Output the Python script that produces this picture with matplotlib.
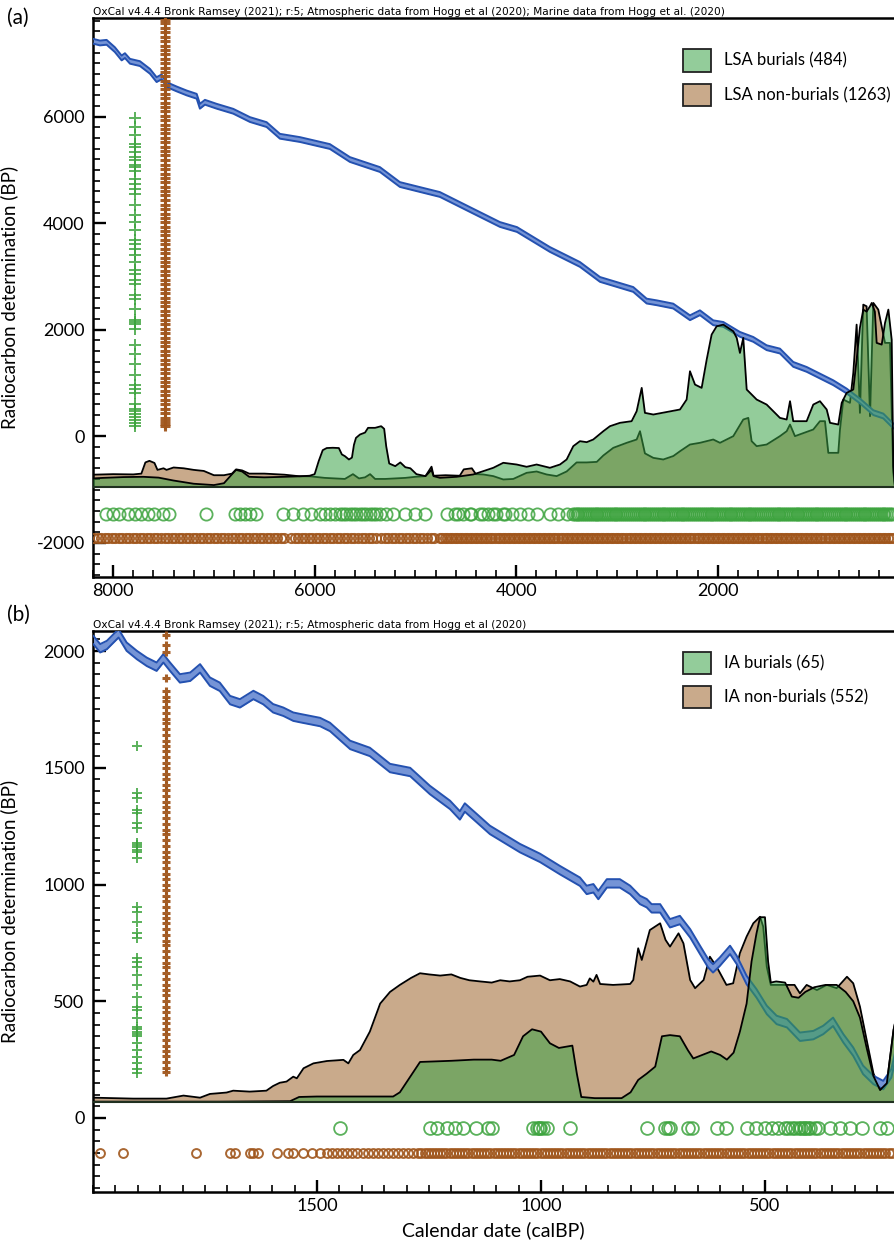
import numpy as np
import matplotlib.pyplot as plt
from matplotlib.patches import Patch
from matplotlib.ticker import MultipleLocator

plt.rcParams['font.family'] = ['Lato', 'DejaVu Sans']
plt.rcParams['axes.unicode_minus'] = False

# ---------------- panel (a): LSA ----------------
# calibration curve (calBP -> 14C BP)
cal_a_x = [8198, 8131, 8065, 7983, 7916, 7883, 7833, 7734, 7635, 7569,
           7519, 7469, 7370, 7271, 7171, 7139, 7089, 6973, 6808, 6642,
           6477, 6345, 6146, 5849, 5650, 5352, 5154, 4955, 4757, 4459,
           4161, 3992, 3665, 3367, 3168, 2838, 2705, 2605, 2441, 2275,
           2176, 2044, 1944, 1779, 1647, 1514, 1382, 1250, 1117, 985,
           853, 720, 588, 455, 356, 257]
cal_a_y = [7413, 7381, 7394, 7256, 7100, 7144, 7038, 6994, 6850, 6694,
           6744, 6600, 6519, 6444, 6381, 6194, 6269, 6194, 6100, 5944,
           5850, 5631, 5569, 5438, 5194, 5006, 4725, 4631, 4538, 4256,
           3975, 3881, 3506, 3225, 2944, 2756, 2538, 2506, 2444, 2225,
           2319, 2131, 2100, 1913, 1819, 1663, 1600, 1350, 1256, 1131,
           1006, 850, 663, 444, 381, 194]

# summed distributions, height above the plot baseline
lsa_bur_x = [8200, 8100, 7900, 7700, 7550, 7400, 7200, 7000, 6900, 6820,
             6780, 6720, 6650, 6500, 6300, 6150, 6050, 6000, 5960, 5920,
             5880, 5820, 5760, 5730, 5700, 5660, 5630, 5610, 5590, 5550,
             5500, 5470, 5400, 5340, 5310, 5290, 5260, 5200, 5150, 5100,
             5050, 4990, 4900, 4840, 4820, 4756, 4591, 4426, 4327, 4227,
             4128, 3995, 3896, 3797, 3665, 3565, 3499, 3433, 3367, 3300,
             3235, 3135, 3069, 2970, 2854, 2804, 2754, 2722, 2639, 2374,
             2308, 2275, 2225, 2159, 2109, 2060, 2010, 1944, 1845, 1811,
             1779, 1746, 1712, 1613, 1514, 1382, 1315, 1282, 1250, 1117,
             1051, 985, 918, 885, 803, 769, 720, 654, 621, 588,
             555, 522, 488, 471, 440, 422, 372, 339, 306, 273,
             257, 240]
lsa_bur_h = [170, 180, 195, 200, 185, 130, 70, 45, 80, 250,
             330, 300, 200, 190, 200, 210, 220, 250, 494, 700,
             740, 745, 740, 620, 588, 525, 560, 800, 930, 994,
             1030, 1119, 1119, 1150, 1100, 775, 450, 400, 470, 380,
             360, 250, 213, 330, 213, 181, 200, 244, 306, 369,
             463, 431, 388, 431, 369, 431, 525, 775, 869, 850,
             900, 1056, 1150, 1213, 1244, 1431, 1869, 1400, 1369, 1463,
             1650, 2181, 1931, 1869, 2400, 2869, 3025, 3056, 2931, 2806,
             2525, 2806, 1838, 1650, 1556, 1306, 1275, 1619, 1244, 1244,
             1556, 1619, 1463, 1213, 1181, 1588, 1775, 1838, 2400, 3000,
             3338, 3300, 3400, 3463, 3300, 2713, 2681, 3088, 3338, 2775,
             400, 0]

lsa_non_x = [8200, 8000, 7800, 7720, 7680, 7640, 7590, 7560, 7500, 7470,
             7400, 7300, 7200, 7100, 7000, 6900, 6820, 6780, 6720, 6650,
             6500, 6300, 6150, 6050, 6000, 5900, 5800, 5700, 5620, 5560,
             5500, 5450, 5400, 5300, 5200, 5100, 5000, 4900, 4840, 4820,
             4700, 4560, 4520, 4440, 4400, 4327, 4227, 4128, 4029, 3896,
             3797, 3698, 3598, 3499, 3400, 3300, 3200, 3135, 3036, 2903,
             2804, 2771, 2722, 2639, 2540, 2440, 2374, 2275, 2176, 2044,
             1977, 1845, 1746, 1696, 1663, 1613, 1514, 1382, 1315, 1282,
             1233, 1051, 985, 935, 902, 803, 786, 753, 687, 654,
             621, 588, 555, 522, 488, 455, 406, 339, 290, 257,
             240]
lsa_non_h = [240, 250, 245, 260, 470, 500, 460, 330, 360, 330,
             375, 360, 330, 310, 230, 230, 260, 340, 320, 260,
             260, 240, 210, 210, 200, 180, 170, 160, 250, 170,
             190, 250, 160, 160, 170, 180, 200, 213, 390, 220,
             230, 220, 340, 360, 250, 244, 213, 150, 160, 275,
             300, 244, 213, 300, 470, 470, 480, 600, 744, 838,
             900, 1056, 640, 556, 525, 590, 680, 806, 838, 900,
             838, 963, 1275, 1306, 869, 775, 806, 963, 1056, 1181,
             963, 1088, 1244, 1244, 650, 650, 1088, 1650, 1588, 2150,
             3056, 1400, 3431, 3400, 1338, 3463, 3338, 2713, 2713, 275,
             0]

# radiocarbon determinations (crosses) and calibrated medians (circles)
lsa_bur_c14 = [5980, 5810, 5660, 5480, 5420, 5340, 5250, 5190, 5100, 5050,
               4970, 4820, 4730, 4650, 4540, 4350, 4160, 4030, 3880, 3690,
               3600, 3510, 3410, 3280, 3130, 3050, 2940, 2850, 2660, 2570,
               2380, 2190, 2150, 2100, 2010, 1720, 1540, 1350, 1160, 970,
               880, 820, 600, 520, 470, 410, 360, 300, 250, 190]
lsa_non_c14 = [7900, 7820, 7750, 7660, 7590, 7500, 7420, 7330, 7250, 7170,
               7080, 7000, 6920, 6830, 6760, 6670, 6600, 6510, 6430, 6350,
               6260, 6180, 6100, 6010, 5930, 5850, 5760, 5690, 5600, 5520,
               5430, 5350, 5270, 5180, 5100, 5020, 4930, 4850, 4770, 4680,
               4600, 4520, 4430, 4350, 4270, 4180, 4100, 4020, 3930, 3850,
               3770, 3690, 3600, 3520, 3440, 3350, 3270, 3190, 3100, 3020,
               2940, 2850, 2770, 2690, 2600, 2520, 2440, 2350, 2270, 2190,
               2100, 2020, 1940, 1850, 1770, 1690, 1600, 1520, 1440, 1350,
               1270, 1190, 1100, 1020, 940, 850, 770, 690, 600, 520,
               440, 350, 290, 240, 200]
lsa_bur_med = [8070, 8004, 7938, 7855, 7788, 7723, 7656, 7590, 7508, 7441,
               7076, 6794, 6745, 6695, 6645, 6580, 6315, 6216, 6116, 6034,
               5950, 5900, 5851, 5801, 5752, 5720, 5686, 5650, 5620, 5590,
               5553, 5520, 5488, 5450, 5421, 5390, 5355, 5289, 5223, 5107,
               5007, 4908, 4690, 4610, 4575, 4528, 4459, 4446, 4362, 4327,
               4280, 4228, 4198, 4128, 4114, 4045, 3962, 3880, 3797, 3664,
               3582, 3499, 3433,
               3420, 3400, 3385, 3365, 3345, 3325, 3305, 3290, 3270, 3250, 3230, 3210, 3195, 3175, 3155,
               3135, 3115, 3100, 3080, 3060, 3040, 3020, 3005, 2985, 2965, 2945, 2925, 2910, 2890, 2870,
               2850, 2830, 2815, 2795, 2775, 2755, 2735, 2720, 2700, 2680, 2660, 2640, 2625, 2605, 2585,
               2565, 2545, 2530, 2510, 2490, 2470, 2450, 2435, 2415, 2395, 2375, 2355, 2340, 2320, 2300,
               2280, 2260, 2245, 2225, 2205, 2185, 2165, 2150, 2130, 2110, 2090, 2070, 2055, 2035, 2015,
               1995, 1975, 1960, 1940, 1920, 1900, 1880, 1865, 1845, 1825, 1805, 1785, 1770, 1750, 1730,
               1710, 1690, 1675, 1655, 1635, 1615, 1595, 1580, 1560, 1540, 1520, 1500, 1485, 1465, 1445,
               1425, 1405, 1390, 1370, 1350, 1330, 1310, 1295, 1275, 1255, 1235, 1215, 1200, 1180, 1160,
               1140, 1120, 1105, 1085, 1065, 1045, 1025, 1010, 990, 970, 950, 930, 915, 895, 875,
               855, 835, 820, 800, 780, 760, 740, 725, 705, 685, 665, 645, 630, 610, 590,
               570, 550, 535, 515, 495, 475, 455, 440, 420, 400, 380, 360, 345, 325, 305,
               285, 265]
lsa_non_med = [8190, 8155, 8120, 8085, 8050, 8015, 7980, 7945, 7910, 7875, 7840, 7805, 7770, 7735, 7700,
               7665, 7630, 7595, 7560, 7525, 7490, 7455, 7420, 7385, 7350, 7315, 7280, 7245, 7210, 7175,
               7140, 7105, 7070, 7035, 7000, 6965, 6930, 6895, 6860, 6825, 6790, 6755, 6720, 6685, 6650,
               6615, 6580, 6545, 6510, 6475, 6440, 6405, 6370, 6335, 6300,
               6235, 6200, 6165, 6130, 6095, 6060, 6025, 5990, 5955, 5920, 5885, 5850, 5815, 5780, 5745,
               5710, 5675, 5640, 5605, 5570, 5535, 5500, 5465, 5430, 5395,
               5340, 5305, 5270, 5235, 5200, 5165, 5130, 5095, 5060, 5025, 4990, 4955, 4920, 4885, 4850,
               4815,
               4760, 4735, 4710, 4685, 4660, 4635, 4610, 4585, 4560, 4535, 4510, 4485, 4460, 4435, 4410,
               4385, 4360, 4335, 4310, 4285, 4260, 4235, 4210, 4185, 4160, 4135, 4110, 4085, 4060, 4035,
               4010, 3985, 3960, 3935, 3910, 3885, 3860, 3835, 3810, 3785, 3760, 3735, 3710, 3685, 3660,
               3635, 3610, 3585, 3560, 3535, 3510, 3485, 3460, 3435, 3410, 3385, 3360, 3335, 3310, 3285,
               3260, 3235, 3210, 3185, 3160, 3135, 3110, 3085, 3060, 3035, 3010, 2985, 2960, 2935, 2910,
               2885, 2860, 2835, 2810, 2785, 2760, 2735, 2710, 2685, 2660, 2635, 2610, 2585, 2560, 2535,
               2510, 2485, 2460, 2435, 2410, 2385, 2360, 2335, 2310, 2285, 2260, 2235, 2210, 2185, 2160,
               2135, 2110, 2085, 2060, 2035, 2010, 1985, 1960, 1935, 1910, 1885, 1860, 1835, 1810, 1785,
               1760, 1735, 1710, 1685, 1660, 1635, 1610, 1585, 1560, 1535, 1510, 1485, 1460, 1435, 1410,
               1385, 1360, 1335, 1310, 1285, 1260, 1235, 1210, 1185, 1160, 1135, 1110, 1085, 1060, 1035,
               1010, 985, 960, 935, 910, 885, 860, 835, 810, 785, 760, 735, 710, 685, 660,
               635, 610, 585, 560, 535, 510, 485, 460, 435, 410, 385, 360, 335, 310, 285, 260]

# ---------------- panel (b): IA ----------------
cal_b_x = [1999, 1984, 1969, 1943, 1925, 1902, 1880, 1858, 1843, 1828,
           1806, 1783, 1761, 1739, 1717, 1694, 1672, 1642, 1620, 1598,
           1575, 1553, 1538, 1493, 1471, 1426, 1382, 1337, 1292, 1248,
           1203, 1181, 1170, 1114, 1047, 1002, 958, 913, 898, 883,
           872, 853, 824, 801, 779, 764, 753, 734, 712, 690,
           667, 645, 627, 616, 601, 578, 563, 541, 519, 496,
           474, 451, 422, 392, 370, 348, 325, 303, 281, 258,
           236, 218, 205]
cal_b_y = [2047, 2012, 2026, 2076, 2019, 1983, 1954, 1933, 1969, 1933,
           1883, 1890, 1926, 1869, 1847, 1790, 1776, 1812, 1790, 1755,
           1740, 1719, 1713, 1696, 1675, 1598, 1568, 1499, 1482, 1405,
           1341, 1296, 1330, 1234, 1156, 1114, 1062, 1012, 977, 984,
           955, 1005, 1005, 977, 934, 920, 898, 898, 834, 848,
           791, 720, 663, 641, 669, 720, 677, 591, 534, 463,
           420, 406, 348, 355, 377, 412, 341, 284, 206, 163,
           141, 191, 300]

ia_bur_x = [2000, 1720, 1560, 1540, 1500, 1330, 1315, 1270, 1200, 1150,
            1110, 1090, 1060, 1040, 1020, 1000, 980, 960, 930, 920,
            910, 880, 820, 800, 783, 764, 745, 730, 712, 690,
            672, 660, 640, 620, 600, 585, 570, 556, 541, 530,
            519, 511, 500, 493, 487, 475, 455, 440, 425, 410,
            390, 365, 340, 320, 303, 288, 273, 258, 243, 228,
            213, 205]
ia_bur_h = [0, 0, 2, 20, 22, 22, 40, 170, 175, 180,
            180, 175, 200, 280, 310, 300, 250, 230, 240, 120,
            20, 15, 15, 40, 93, 120, 150, 280, 285, 280,
            220, 185, 200, 215, 200, 180, 210, 300, 420, 600,
            720, 790, 790, 600, 510, 515, 510, 450, 445, 470,
            490, 500, 500, 470, 430, 360, 230, 110, 50, 79,
            307, 380]

ia_non_x = [1999, 1910, 1836, 1798, 1761, 1739, 1702, 1687, 1650, 1613,
            1598, 1583, 1568, 1553, 1545, 1530, 1508, 1478, 1441, 1430,
            1419, 1404, 1382, 1359, 1337, 1315, 1290, 1270, 1250, 1225,
            1200, 1180, 1160, 1136, 1110, 1091, 1070, 1047, 1030, 1002,
            980, 958, 935, 913, 898, 891, 883, 876, 868, 839,
            801, 794, 783, 775, 757, 734, 722, 712, 693, 682,
            667, 656, 637, 623, 608, 586, 571, 556, 541, 526,
            511, 504, 496, 487, 464, 434, 422, 407, 384, 362,
            340, 317, 303, 288, 273, 258, 243, 228, 213, 205]
ia_non_h = [17, 13, 13, 26, 17, 33, 39, 47, 43, 47,
            67, 81, 86, 107, 100, 143, 164, 174, 179, 164,
            200, 221, 300, 420, 470, 500, 530, 550, 545, 540,
            545, 530, 520, 515, 510, 520, 515, 520, 535, 540,
            520, 525, 515, 493, 500, 528, 514, 543, 504, 500,
            504, 521, 657, 607, 735, 764, 693, 664, 721, 678,
            521, 486, 521, 621, 578, 500, 507, 636, 707, 764,
            792, 750, 578, 500, 500, 500, 464, 500, 478, 500,
            486, 535, 507, 407, 264, 122, 50, 79, 307, 380]

ia_bur_c14 = [1593, 1392, 1370, 1319, 1306, 1263, 1242, 1180, 1170, 1160,
              1150, 1140, 1113, 904, 882, 839, 792, 771, 685, 668,
              647, 612, 570, 518, 475, 462, 428, 390, 380, 370,
              360, 350, 321, 291, 261, 235, 210, 193]
ia_non_c14 = [2068, 2026, 1996, 1884, 1830, 1805, 1785, 1760, 1735, 1710,
              1690, 1665, 1640, 1615, 1595, 1570, 1545, 1520, 1500, 1475,
              1450, 1425, 1405, 1380, 1355, 1330, 1310, 1285, 1260, 1235,
              1215, 1190, 1165, 1140, 1120, 1095, 1070, 1045, 1025, 1000,
              975, 950, 930, 905, 880, 855, 835, 810, 785, 760,
              740, 715, 690, 665, 645, 620, 595, 570, 550, 525,
              500, 475, 455, 430, 405, 380, 360, 335, 310, 285,
              265, 240, 215, 195]
ia_bur_med = [1448, 1248, 1232, 1210, 1192, 1173, 1144, 1118, 1110, 1017,
              1010, 1005, 1002, 995, 987, 935, 764, 723, 716, 712,
              671, 664, 608, 586, 541, 519, 500, 485, 470, 455,
              448, 440, 432, 425, 420, 414, 410, 405, 399, 388,
              381, 355, 333, 310, 284, 243, 228]
ia_non_med = [1984, 1932, 1769, 1694, 1683, 1650, 1642, 1631, 1590, 1564,
              1553, 1531, 1512, 1493, 1478, 1466, 1455, 1444, 1432, 1421,
              1410, 1398, 1387, 1376, 1364, 1353, 1342, 1330, 1319, 1308,
              1296, 1285, 1274,
              1267, 1260, 1253, 1246, 1239, 1232, 1225, 1218, 1211, 1204, 1197, 1190, 1183, 1176, 1169,
              1162, 1155, 1148, 1141, 1134, 1127, 1120, 1113, 1106, 1099, 1092, 1085, 1078, 1071, 1064,
              1057, 1050, 1043, 1036, 1029, 1022, 1015, 1008, 1001, 994, 987, 980, 973, 966, 959,
              952, 945, 938, 931, 924, 917, 910, 903, 896, 889, 882, 875, 868, 861, 854,
              847, 840, 833, 826, 819, 812, 805, 798, 791, 784, 777, 770, 763, 756, 749,
              742, 735, 728, 721, 714, 707, 700, 693, 686, 679, 672, 665, 658, 651, 644,
              637, 630, 623, 616, 609, 602, 595, 588, 581, 574, 567, 560, 553, 546, 539,
              532, 525, 518, 511, 504, 497, 490, 483, 476, 469, 462, 455, 448, 441, 434,
              427, 420, 413, 406, 399, 392, 385, 378, 371, 364, 357, 350, 343, 336, 329,
              322, 315, 308, 301, 294, 287, 280, 273, 266, 259, 252, 245, 238, 231, 224,
              217]

TAN = '#c9aa8b'
GREEN_SRC = (59 / 255, 162 / 255, 71 / 255)
GREEN_LEG = '#93cc9a'
CAL_EDGE = '#2451b0'
CAL_FILL = '#7594d6'
MK_GREEN = '#3ea43f'
MK_BROWN = '#a0561c'

W, H = 894, 1248
fig = plt.figure(figsize=(W / 100, H / 100), dpi=100)
ax_a = fig.add_axes([93 / W, 1 - 577 / H, 1 - 93 / W, (577 - 18) / H])
ax_b = fig.add_axes([93 / W, 1 - 1192 / H, 1 - 93 / W, (1192 - 631) / H])


def draw_panel(ax, p):
    base = p['base']
    nx, nh = np.array(p['non_x']), np.array(p['non_h'])
    bx, bh = np.array(p['bur_x']), np.array(p['bur_h'])
    # non-burials (opaque tan)
    ax.fill_between(nx, base, base + nh, color=TAN, lw=0, zorder=1)
    ax.plot(nx, base + nh, color='black', lw=1.3, zorder=2)
    # calibration curve
    cx, cy = np.array(p['cal_x']), np.array(p['cal_y'])
    s = p['sig']
    ax.fill_between(cx, cy - s, cy + s, color=CAL_FILL, lw=0, zorder=3)
    ax.plot(cx, cy - s, color=CAL_EDGE, lw=1.4, zorder=3)
    ax.plot(cx, cy + s, color=CAL_EDGE, lw=1.4, zorder=3)
    # burials (semi-transparent green)
    ax.fill_between(bx, base, base + bh, color=GREEN_SRC, alpha=0.55, lw=0, zorder=4)
    ax.plot(bx, base + bh, color='black', lw=1.3, zorder=5)
    ax.axhline(base, color='#203020', lw=1.5, zorder=5)
    # crosses
    ax.plot(np.full(len(p['bur_c14']), p['bur_cx']), p['bur_c14'], '+',
            color=MK_GREEN, ms=p['ms_cross'][0], mew=1.4, alpha=0.85, zorder=6)
    ax.plot(np.full(len(p['non_c14']), p['non_cx']), p['non_c14'], '+',
            color=MK_BROWN, ms=p['ms_cross'][1], mew=2.2, alpha=0.95, zorder=6)
    # circles
    ax.plot(p['bur_med'], np.full(len(p['bur_med']), p['bur_cy']), 'o', mfc='none',
            mec=MK_GREEN, ms=p['ms_circ'][0], mew=1.3, alpha=0.85, ls='none', zorder=6)
    ax.plot(p['non_med'], np.full(len(p['non_med']), p['non_cy']), 'o', mfc='none',
            mec=MK_BROWN, ms=p['ms_circ'][1], mew=1.4, alpha=0.9, ls='none', zorder=6)

    ax.set_xlim(*p['xlim'])
    ax.set_ylim(*p['ylim'])
    ax.set_xticks(p['xticks'])
    ax.xaxis.set_minor_locator(MultipleLocator(p['xmin']))
    ax.yaxis.set_major_locator(MultipleLocator(p['ymaj']))
    ax.yaxis.set_minor_locator(MultipleLocator(p['ymin']))
    ax.tick_params(which='major', direction='in', length=9, width=1.7,
                   labelsize=13, top=False, right=False)
    ax.tick_params(axis='x', which='major', pad=4)
    ax.tick_params(axis='y', which='major', pad=6)
    ax.tick_params(which='minor', direction='in', length=5, width=1.2,
                   top=False, right=False)
    for side in ('left', 'bottom', 'top'):
        ax.spines[side].set_linewidth(1.8)
    ax.spines['right'].set_visible(False)
    ax.set_ylabel('Radiocarbon determination (BP)', fontsize=13.5)
    ax.yaxis.set_label_coords(-0.094, 0.5)
    ax.text(0.0, 1.002, p['note'], transform=ax.transAxes, ha='left', va='bottom',
            fontsize=7.6, family=['Liberation Sans Narrow', 'DejaVu Sans'])
    handles = [Patch(facecolor=GREEN_LEG, edgecolor='#222222', lw=1.3, label=p['labels'][0]),
               Patch(facecolor=TAN, edgecolor='#222222', lw=1.3, label=p['labels'][1])]
    ax.legend(handles=handles, loc='upper left', bbox_to_anchor=p['leg_at'],
              frameon=False, fontsize=12, handlelength=1.68, handleheight=1.68,
              handletextpad=0.8, labelspacing=0.72, borderpad=0, borderaxespad=0)


panel_a = dict(base=-960, non_x=lsa_non_x, non_h=lsa_non_h, bur_x=lsa_bur_x, bur_h=lsa_bur_h,
               cal_x=cal_a_x, cal_y=cal_a_y, sig=45,
               bur_c14=lsa_bur_c14, non_c14=lsa_non_c14, bur_cx=7784, non_cx=7486,
               bur_med=lsa_bur_med, non_med=lsa_non_med, bur_cy=-1460, non_cy=-1910,
               ms_cross=(9, 7.5), ms_circ=(8.8, 6.6),
               xlim=(8200, 250), ylim=(-2640, 7850), xticks=[8000, 6000, 4000, 2000],
               xmin=200, ymaj=2000, ymin=200,
               note='OxCal v4.4.4 Bronk Ramsey (2021); r:5; Atmospheric data from Hogg et al (2020); '
                    'Marine data from Hogg et al. (2020)',
               labels=('LSA burials (484)', 'LSA non-burials (1263)'),
               leg_at=(0.7366, 0.944))
panel_b = dict(base=70, non_x=ia_non_x, non_h=ia_non_h, bur_x=ia_bur_x, bur_h=ia_bur_h,
               cal_x=cal_b_x, cal_y=cal_b_y, sig=18,
               bur_c14=ia_bur_c14, non_c14=ia_non_c14, bur_cx=1902, non_cx=1837,
               bur_med=ia_bur_med, non_med=ia_non_med, bur_cy=-43, non_cy=-150,
               ms_cross=(7, 6.2), ms_circ=(9.2, 6.4),
               xlim=(2000, 212), ylim=(-317, 2086), xticks=[1500, 1000, 500],
               xmin=50, ymaj=500, ymin=50,
               note='OxCal v4.4.4 Bronk Ramsey (2021); r:5; Atmospheric data from Hogg et al (2020)',
               labels=('IA burials (65)', 'IA non-burials (552)'),
               leg_at=(0.7366, 0.963))

draw_panel(ax_a, panel_a)
draw_panel(ax_b, panel_b)
ax_b.set_xlabel('Calendar date (calBP)', fontsize=14)
ax_b.xaxis.set_label_coords(0.5, -0.052)

fig.text(7 / W, 1 - 18 / H, '(a)', fontsize=15, va='center', ha='left')
fig.text(7 / W, 1 - 615 / H, '(b)', fontsize=15, va='center', ha='left')

fig.savefig('out.png', dpi=100)
